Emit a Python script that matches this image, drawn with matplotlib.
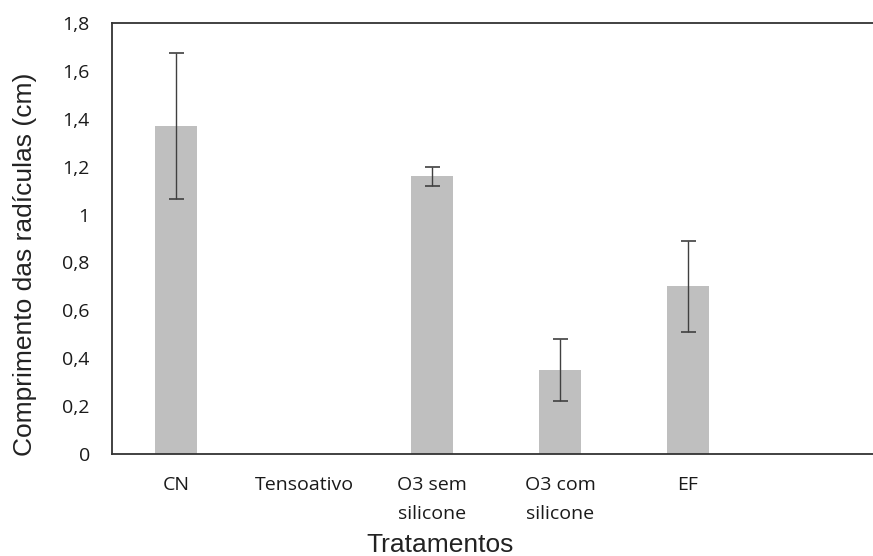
import matplotlib
matplotlib.use('Agg')

import matplotlib.pyplot as plt
import numpy as np

# Data
categories = ["CN", "Tensoativo", "O3 sem\nsilicone", "O3 com\nsilicone", "EF", ""]
means = [1.37, 0.0, 1.16, 0.35, 0.70, 0.0]
errors = [0.305, 0.0, 0.04, 0.13, 0.19, 0.0]
has_bar = [True, False, True, True, True, False]
yticks = [0, 0.2, 0.4, 0.6, 0.8, 1.0, 1.2, 1.4, 1.6, 1.8]
ytick_labels = ["0", "0,2", "0,4", "0,6", "0,8", "1", "1,2", "1,4", "1,6", "1,8"]

fig = plt.figure(figsize=(8.73, 5.56), dpi=100)
ax = fig.add_axes([112 / 873, 102 / 556, 761 / 873, 431 / 556])

x = np.arange(len(categories))
for i in range(len(categories)):
    if not has_bar[i]:
        continue
    ax.bar(x[i], means[i], width=0.33, color='#bfbfbf', zorder=2)
    ax.errorbar(x[i], means[i], yerr=errors[i], fmt='none', ecolor='#404040',
                elinewidth=1, capsize=5.4, capthick=1.2, zorder=3)

ax.set_xlim(-0.5, -0.5 + 761 / 128)
ax.set_ylim(0, 1.8)
ax.set_yticks(yticks)
ax.set_yticklabels(ytick_labels)
ax.set_xticks(x[:5])
ax.set_xticklabels(categories[:5], linespacing=1.75)

tick_font = ['Open Sans', 'DejaVu Sans']
for lbl in ax.get_xticklabels() + ax.get_yticklabels():
    lbl.set_family(tick_font)
    lbl.set_fontsize(14)
    lbl.set_color('#1a1a1a')

ax.tick_params(axis='both', length=0)
ax.tick_params(axis='x', pad=16)
ax.tick_params(axis='y', pad=16)

for side in ['top', 'bottom', 'left']:
    ax.spines[side].set_linewidth(1.3)
    ax.spines[side].set_color('#333333')
ax.spines['right'].set_visible(False)

ax.set_ylabel("Comprimento das radículas (cm)", family='Liberation Sans',
              fontsize=19, color='#222222')
ax.yaxis.set_label_coords(-0.0986, 0.44)
ax.set_xlabel("Tratamentos", family='Liberation Sans', fontsize=19,
              color='#222222')
ax.xaxis.label.set_va('baseline')
ax.xaxis.set_label_coords(0.431, -0.228)

plt.savefig("out.png", dpi=100)
plt.close()
